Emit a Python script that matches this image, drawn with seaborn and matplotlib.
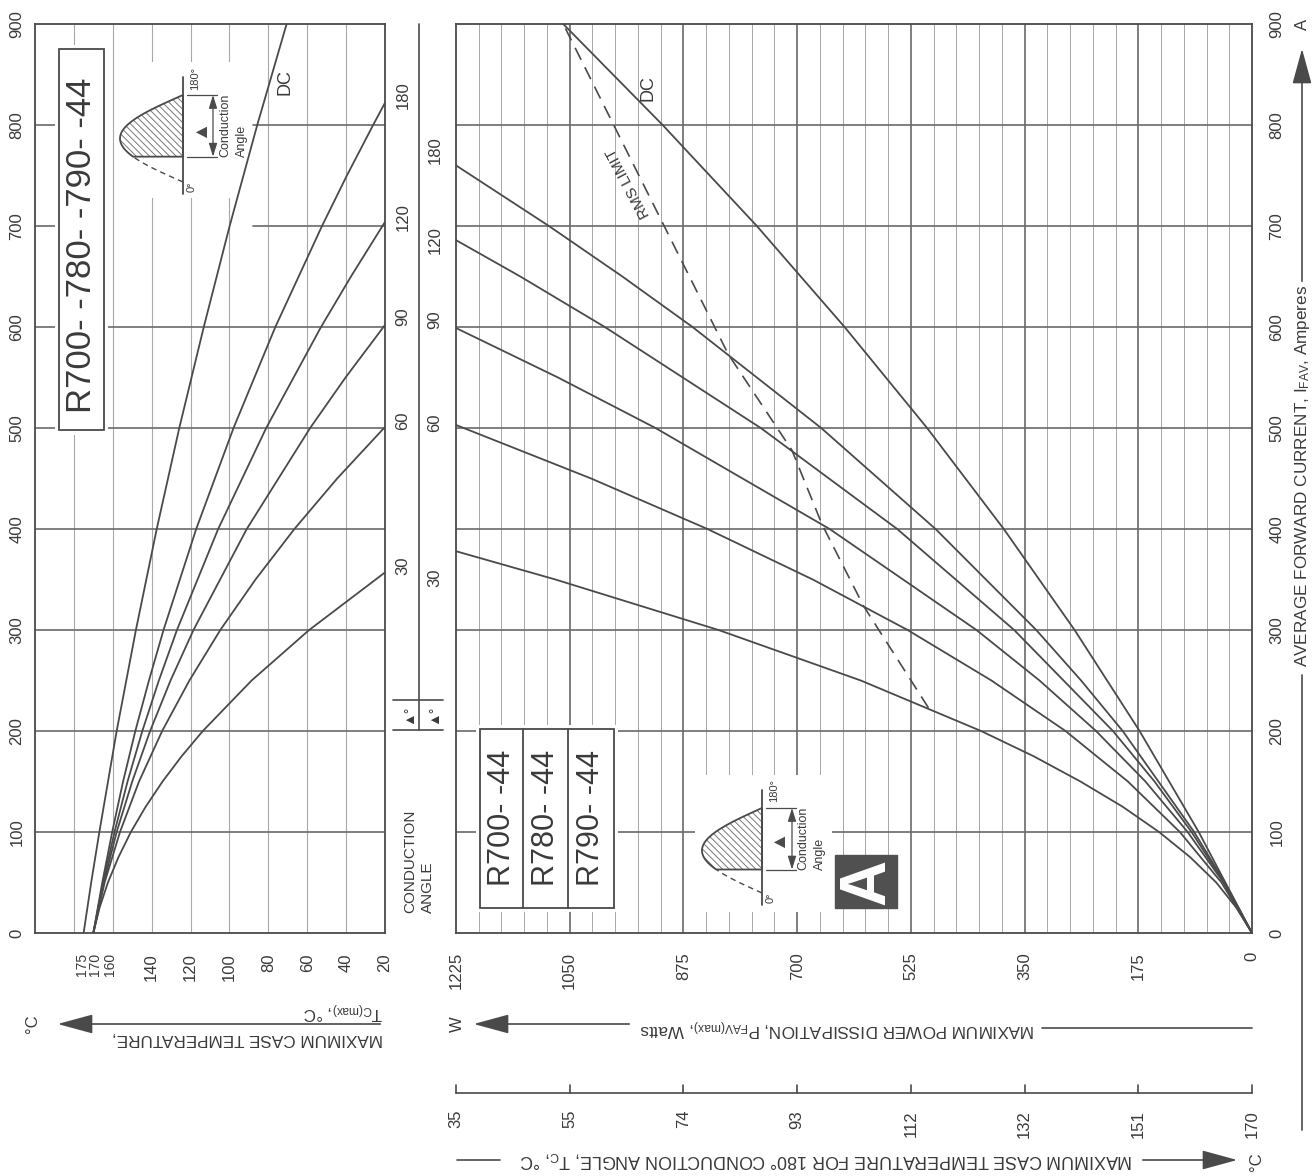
import numpy as np
import pandas as pd
import seaborn as sns
import matplotlib
matplotlib.use("Agg")
import matplotlib.pyplot as plt
from matplotlib.patches import Rectangle, Polygon
from matplotlib.transforms import blended_transform_factory as blend

# ---- values ----
# right panel: max power dissipation (W) against average current (A)
p30_i = [0, 25, 50, 75, 100, 125, 150, 175, 200, 250, 300, 350, 378]
p30_w = [0, 24, 55, 95, 143, 199, 264, 336, 417, 602, 821, 1072, 1225]
p60_i = [0, 50, 100, 150, 200, 250, 300, 350, 400, 450, 503]
p60_w = [0, 47, 111, 191, 287, 401, 530, 676, 838, 1017, 1225]
p90_i = [0, 50, 100, 150, 200, 250, 300, 400, 500, 550, 599]
p90_w = [0, 44, 99, 164, 240, 327, 424, 650, 918, 1068, 1225]
p120_i = [0, 50, 100, 150, 200, 300, 400, 500, 600, 650, 686]
p120_w = [0, 43, 93, 150, 214, 366, 546, 756, 996, 1126, 1225]
p180_i = [0, 50, 100, 200, 250, 300, 400, 500, 600, 650, 700, 760]
p180_w = [0, 42, 89, 199, 263, 332, 487, 663, 861, 969, 1082, 1225]
pdc_i = [0, 100, 200, 300, 400, 500, 600, 700, 800, 900]
pdc_w = [0, 82, 173, 273, 382, 500, 627, 762, 907, 1060]
rms_i = [223, 324, 405, 478, 573, 900]
rms_w = [498, 598, 662, 708, 806, 1060]

# left panel: max case temperature (C) against average current (A)
t30_i = [0, 25, 50, 75, 100, 125, 150, 175, 200, 250, 300, 357]
t30_c = [170, 166.8, 162.5, 157.1, 150.7, 143.1, 134.4, 124.6, 113.7, 88.6, 59.0, 20]
t60_i = [0, 50, 100, 150, 200, 250, 300, 350, 400, 450, 501]
t60_c = [170, 164.2, 156.3, 146.5, 134.6, 120.6, 104.7, 86.6, 66.6, 44.6, 20]
t90_i = [0, 50, 100, 150, 200, 250, 300, 400, 500, 550, 602]
t90_c = [170, 164.6, 158.0, 150.0, 140.8, 130.3, 118.5, 91.1, 58.5, 40.3, 20]
t120_i = [0, 50, 100, 150, 200, 250, 300, 400, 500, 600, 650, 704]
t120_c = [170, 165.0, 159.1, 152.4, 144.8, 136.3, 127.0, 105.8, 81.1, 52.9, 37.5, 20]
t180_i = [0, 50, 100, 150, 200, 250, 300, 400, 500, 600, 700, 750, 800, 822]
t180_c = [170, 165.4, 160.3, 154.7, 148.4, 141.4, 133.9, 117.1, 97.9, 76.4, 52.4, 39.6, 26.1, 20]
tdc_i = [0, 50, 100, 200, 300, 400, 500, 600, 700, 800, 900]
tdc_c = [175, 171.1, 166.9, 158.0, 148.1, 137.4, 125.8, 113.2, 99.9, 85.7, 70.6]

current_ticks = [0, 100, 200, 300, 400, 500, 600, 700, 800, 900]
power_ticks = [0, 175, 350, 525, 700, 875, 1050, 1225]
tc180_labels = [170, 151, 132, 112, 93, 74, 55, 35]
temp_ticks = [140, 120, 100, 80, 60, 40, 20]
temp_crowded = [175, 170, 160]
angle_names = ["30", "60", "90", "120", "180"]

sns.set_theme(style="white")
plt.rcParams["font.family"] = ["Liberation Sans", "DejaVu Sans"]
plt.rcParams["mathtext.default"] = "regular"
plt.rcParams["hatch.linewidth"] = 0.7

W, H = 1316, 1176
ink = "#4a4a4a"
txt = "#3a3a3a"
gdark = "#6a6a6a"
glight = "#a8a8a8"
tfs = 12.3

fig = plt.figure(figsize=(W / 100, H / 100), dpi=100)
fig.patch.set_facecolor("white")


def rect(x0, y0, x1, y1):
    return [x0 / W, 1 - y1 / H, (x1 - x0) / W, (y1 - y0) / H]


axL = fig.add_axes(rect(35, 24, 385, 933))
axR = fig.add_axes(rect(456, 24, 1252, 933))
px = fig.add_axes([0, 0, 1, 1], zorder=5)
px.set_xlim(0, W)
px.set_ylim(H, 0)
px.axis("off")
px.patch.set_alpha(0)


def frame(pairs, xname):
    parts = [pd.DataFrame({"current": c, xname: v, "angle": n}) for n, c, v in pairs]
    return pd.concat(parts, ignore_index=True)


dfL = frame([("30", t30_i, t30_c), ("60", t60_i, t60_c), ("90", t90_i, t90_c),
             ("120", t120_i, t120_c), ("180", t180_i, t180_c), ("DC", tdc_i, tdc_c)], "temp")
dfR = frame([("30", p30_i, p30_w), ("60", p60_i, p60_w), ("90", p90_i, p90_w),
             ("120", p120_i, p120_w), ("180", p180_i, p180_w), ("DC", pdc_i, pdc_w)], "power")

# ---- left panel ----
sns.lineplot(data=dfL, x="temp", y="current", hue="angle", palette=[ink] * 6,
             estimator=None, sort=False, legend=False, lw=1.3, zorder=3, ax=axL)
axL.set_xlim(200, 20)
axL.set_ylim(0, 900)
for t in range(40, 200, 20):
    axL.axvline(t, color=glight, lw=0.8, zorder=1)
gap0, gap1 = (55 - 35) / 350, (253 - 35) / 350
for c in current_ticks[1:-1]:
    if c in (700, 800):
        axL.axhline(c, xmax=gap0, color=gdark, lw=1.2, zorder=1)
        axL.axhline(c, xmin=gap1, color=gdark, lw=1.2, zorder=1)
    else:
        axL.axhline(c, color=gdark, lw=1.2, zorder=1)
axL.add_patch(Rectangle((55, 45), 53, 390, transform=px.transData, fc="white", ec="none", zorder=2))
axL.add_patch(Rectangle((115, 62), 135, 136, transform=px.transData, fc="white", ec="none", zorder=2))

# ---- right panel ----
sns.lineplot(data=dfR, x="power", y="current", hue="angle", palette=[ink] * 6,
             estimator=None, sort=False, legend=False, lw=1.3, zorder=3, ax=axR)
axR.plot(rms_w, rms_i, color=ink, lw=1.2, ls=(0, (8, 5)), zorder=3)
axR.set_xlim(1225, 0)
axR.set_ylim(0, 900)
for p in range(35, 1225, 35):
    major = p % 175 == 0
    axR.axvline(p, color=gdark if major else glight, lw=1.2 if major else 0.7, zorder=1)
for c in current_ticks[1:-1]:
    axR.axhline(c, color=gdark, lw=1.2, zorder=1)
axR.add_patch(Rectangle((476, 725), 142, 187, transform=px.transData, fc="white", ec="none", zorder=2))
axR.add_patch(Rectangle((695, 775), 137, 137, transform=px.transData, fc="white", ec="none", zorder=2))

for ax in (axL, axR):
    ax.set_xticks([])
    ax.set_yticks([])
    ax.set_xlabel("")
    ax.set_ylabel("")
    for s in ax.spines.values():
        s.set_color(ink)
        s.set_linewidth(1.3)

# ---- tick labels ----
tyL = blend(px.transData, axL.transData)
tyR = blend(px.transData, axR.transData)
txL = blend(axL.transData, px.transData)
txR = blend(axR.transData, px.transData)
for c in current_ticks:
    px.text(17, c, str(c), transform=tyL, rotation=90, ha="center", va="center", fontsize=12, color=txt)
    px.text(1277, c, str(c), transform=tyR, rotation=90, ha="center", va="center", fontsize=12, color=txt)
for t in temp_ticks:
    px.text(t, 953, str(t), transform=txL, rotation=90, ha="center", va="top", fontsize=12, color=txt)
# the three top values sit squeezed together on the sheet
for t, xx in zip(temp_crowded, (82, 95.5, 110)):
    px.text(xx, 953, str(t), rotation=90, ha="center", va="top", fontsize=10, color=txt)
for p in power_ticks:
    px.text(p, 952, str(p), transform=txR, rotation=90, ha="center", va="top", fontsize=12, color=txt)

# bottom scale: case temperature for 180 deg conduction
px.plot([0, 1225], [1093, 1093], transform=txR, color=ink, lw=1.2)
for p, lab in zip(power_ticks, tc180_labels):
    px.plot([p, p], [1085, 1093], transform=txR, color=ink, lw=1.2)
    px.text(p, 1110, str(lab), transform=txR, rotation=90, ha="center", va="top", fontsize=12, color=txt)

# ---- axis titles (page is turned, so these read rotated) ----
arrow = dict(arrowstyle="-|>,head_length=1.1,head_width=0.3", color=ink, lw=1.2, mutation_scale=20)
px.text(383, 1038, "MAXIMUM CASE TEMPERATURE,", rotation=180, ha="right", va="center", fontsize=tfs, color=txt)
px.text(383, 1010, "T$_{C(max)}$, °C", rotation=180, ha="right", va="center", fontsize=tfs, color=txt)
px.annotate("", xy=(55, 1024), xytext=(383, 1024), arrowprops=arrow)
px.text(32, 1024, "°C", rotation=90, ha="center", va="center", fontsize=12, color=txt)

px.text(1035, 1027, "MAXIMUM POWER DISSIPATION, P$_{FAV(max)}$, Watts", rotation=180,
        ha="right", va="center", fontsize=tfs, color=txt)
px.plot([1042, 1252], [1028, 1028], color=ink, lw=1.2)
px.annotate("", xy=(471, 1024), xytext=(632, 1024), arrowprops=arrow)
px.text(457, 1024, "W", rotation=90, ha="center", va="center", fontsize=12, color=txt)

px.text(1133, 1160, "MAXIMUM CASE TEMPERATURE FOR 180° CONDUCTION ANGLE, T$_C$, °C", rotation=180,
        ha="right", va="center", fontsize=12.8, color=txt)
px.plot([457, 500], [1160, 1160], color=ink, lw=1.2)
px.annotate("", xy=(1240, 1160), xytext=(1140, 1160), arrowprops=arrow)
px.text(1256, 1162, "°C", rotation=90, ha="center", va="center", fontsize=12, color=txt)

px.text(1302, 667, "AVERAGE FORWARD CURRENT, I$_{FAV}$, Amperes", rotation=90, rotation_mode="anchor",
        ha="left", va="center", fontsize=tfs, color=txt)
px.annotate("", xy=(1302, 46), xytext=(1302, 284), arrowprops=arrow)
px.plot([1302, 1302], [675, 1130], color=ink, lw=1.2)
px.text(1302, 24, "A", rotation=90, ha="center", va="center", fontsize=12, color=txt)

# ---- conduction angle column ----
px.plot([419, 419], [24, 730], color=ink, lw=1.2)
px.plot([393, 443], [700, 700], color=ink, lw=1.2)
px.plot([393, 443], [730, 730], color=ink, lw=1.2)
for xx in (408, 433):
    px.text(xx, 714, "▲°", rotation=90, ha="center", va="center", fontsize=10, color=txt)
for name, yy in zip(angle_names[::-1], [95, 217, 317, 421, 566]):
    px.text(403, yy, name, rotation=90, ha="center", va="center", fontsize=12, color=txt)
for name, yy in zip(angle_names[::-1], [150, 240, 320, 423, 578]):
    px.text(435, yy, name, rotation=90, ha="center", va="center", fontsize=12, color=txt)
px.text(410, 913, "CONDUCTION", rotation=90, rotation_mode="anchor", ha="left", va="center", fontsize=11, color=txt)
px.text(428, 913, "ANGLE", rotation=90, rotation_mode="anchor", ha="left", va="center", fontsize=11, color=txt)

# curve labels
px.text(285, 82, "DC", rotation=90, ha="center", va="center", fontsize=13, color=txt)
px.text(648, 88, "DC", rotation=90, ha="center", va="center", fontsize=13, color=txt)
px.text(628, 183, "RMS LIMIT", rotation=118, ha="center", va="center", fontsize=11, color=txt)

# ---- type boxes ----
px.add_patch(Rectangle((59, 49), 45, 381, fill=False, ec=ink, lw=1.3))
px.text(82, 245, "R700- -780- -790- -44", rotation=90, ha="center", va="center", fontsize=25, color=txt)
px.add_patch(Rectangle((480, 729), 134, 179, fill=False, ec=ink, lw=1.3))
for xx in (523, 568):
    px.plot([xx, xx], [729, 908], color=ink, lw=1.3)
for xx, lab in zip((501.5, 545.5, 591), ("R700- -44", "R780- -44", "R790- -44")):
    px.text(xx, 818, lab, rotation=90, ha="center", va="center", fontsize=22, color=txt)

px.add_patch(Rectangle((835, 855), 62, 53, fc="#505050", ec="#505050"))
px.text(867, 882, "A", rotation=90, ha="center", va="center", fontsize=46, fontweight="bold", color="white")


# ---- conduction-angle waveform sketches ----
def waveform(xb, y0, L, A, fire, dim_x, tri, tx):
    th = np.linspace(0, np.pi, 200)
    ys = y0 - th / np.pi * L
    xs = xb - A * np.sin(th)
    m = th >= np.deg2rad(fire)
    yf, yt = ys[m][0], y0 - L
    px.plot([xb, xb], [y0 + 12, yt - 18], color=ink, lw=1.3)
    px.plot(xs[~m], ys[~m], color=ink, lw=1.0, ls=(0, (4, 3)))
    poly = np.column_stack([np.r_[xs[m], xb], np.r_[ys[m], yf]])
    px.add_patch(Polygon(poly, closed=True, fc="white", ec="#777777", hatch="\\\\\\\\\\", lw=0))
    px.add_patch(Polygon(poly, closed=True, fill=False, ec=ink, lw=1.3))
    for yy in (yf, yt):
        px.plot([xb + 4, dim_x + 4], [yy, yy], color=ink, lw=0.9)
    px.annotate("", xy=(dim_x, yt), xytext=(dim_x, yf),
                arrowprops=dict(arrowstyle="<|-|>,head_length=0.8,head_width=0.25",
                                color=ink, lw=0.9, mutation_scale=10, shrinkA=0, shrinkB=0))
    px.text(tri[0], tri[1], "▲", rotation=90, ha="center", va="center", fontsize=14, color=ink)
    px.text(xb + 12, yt - 17, "180°", rotation=90, ha="center", va="center", fontsize=8, color=txt)
    px.text(xb + 9, y0 + 5, "0°", rotation=90, ha="center", va="center", fontsize=8, color=txt)
    px.text(tx, yf, "Conduction", rotation=90, rotation_mode="anchor", ha="left", va="center",
            fontsize=9, color=txt)
    px.text(tx + 17, yf, "Angle", rotation=90, rotation_mode="anchor", ha="left", va="center",
            fontsize=9, color=txt)


waveform(183, 182, 87, 63, 52, 213, (200, 128), 225)
waveform(762, 893, 85, 60, 49, 792, (778, 838), 803)

fig.savefig("out.png", dpi=100, facecolor="white")
